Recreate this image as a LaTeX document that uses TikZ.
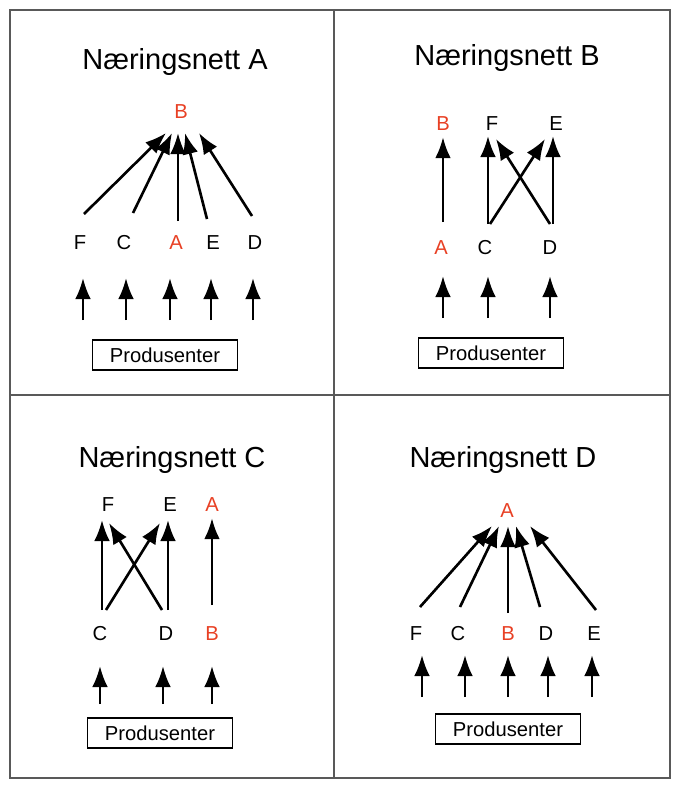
\documentclass[tikz,border=0pt]{standalone}
\usepackage{fontspec}
\setmainfont{Liberation Sans}
\usetikzlibrary{arrows.meta}
\definecolor{topred}{RGB}{232,64,36}
\tikzset{
  lbl/.style={font=\fontsize{11.5}{13}\selectfont},
  red/.style={lbl, text=topred},
  ttl/.style={font=\fontsize{16.5}{19}\selectfont},
  prod/.style={draw, line width=0.6pt, font=\fontsize{11.5}{13}\selectfont, minimum width=4cm, minimum height=0.6cm, inner sep=2pt},
  arr/.style={line width=1.5pt, -{Latex[length=12pt,width=9pt]}}
}
\begin{document}
\begin{tikzpicture}[x=0.02cm, y=-0.02cm]
    \useasboundingbox (0,0) rectangle (684,792);
    \draw[line width=0.6pt, gray!70!black] (10,10) rectangle (670,778);
    \draw[line width=0.6pt, gray!70!black] (334,10) -- (334,778);
    \draw[line width=0.6pt, gray!70!black] (10,395) -- (670,395);

    % Naeringsnett A
    \node[ttl] (tA) at (175,62) {Næringsnett A};
    \node[red] (aB) at (181,112) {B};
    \node[lbl] (aF) at (80,243) {F};
    \node[lbl] (aC) at (124,243) {C};
    \node[red] (aA) at (176,243) {A};
    \node[lbl] (aE) at (213,243) {E};
    \node[lbl] (aD) at (255,243) {D};
    \coordinate (aT1) at (166,133);
    \coordinate (aT2) at (172,133);
    \coordinate (aT3) at (178,133);
    \coordinate (aT4) at (185,133);
    \coordinate (aT5) at (199,133);
    \coordinate (aF0) at (84,214);
    \coordinate (aC0) at (133,213);
    \coordinate (aA0) at (178,221);
    \coordinate (aE0) at (207,219);
    \coordinate (aD0) at (252,216);
    \draw[arr] (aF0) -- (aT1);
    \draw[arr] (aC0) -- (aT2);
    \draw[arr] (aA0) -- (aT3);
    \draw[arr] (aE0) -- (aT4);
    \draw[arr] (aD0) -- (aT5);
    \foreach \x in {83,126,170,211,253}
        \draw[arr] (\x,320) -- (\x,278);
    \node[prod, minimum width=2.9cm] (pA) at (165,355) {Produsenter};

    % Naeringsnett B
    \node[ttl] (tB) at (507,58) {Næringsnett B};
    \node[red] (bB) at (443,124) {B};
    \node[lbl] (bF) at (492,124) {F};
    \node[lbl] (bE) at (556,124) {E};
    \node[red] (bA) at (441,248) {A};
    \node[lbl] (bC) at (485,248) {C};
    \node[lbl] (bD) at (550,248) {D};
    \draw[arr] (443,222) -- (bB);
    \draw[arr] (488,224) -- (488,136);
    \draw[arr] (490,224) -- (545,139);
    \draw[arr] (550,224) -- (496,139);
    \draw[arr] (553,224) -- (553,136);
    \foreach \x in {443,488,550}
        \draw[arr] (\x,318) -- (\x,276);
    \node[prod, minimum width=2.9cm] (pB) at (491,353) {Produsenter};

    % Naeringsnett C
    \node[ttl] (tC) at (172,460) {Næringsnett C};
    \node[lbl] (cF) at (108,505) {F};
    \node[lbl] (cE) at (170,505) {E};
    \node[red] (cA) at (212,505) {A};
    \node[lbl] (cC) at (100,634) {C};
    \node[lbl] (cD) at (166,634) {D};
    \node[red] (cB) at (212,634) {B};
    \draw[arr] (102,610) -- (102,520);
    \draw[arr] (106,610) -- (160,523);
    \draw[arr] (162,610) -- (109,523);
    \draw[arr] (168,610) -- (168,520);
    \draw[arr] (212,605) -- (cA);
    \foreach \x in {100,163,212}
        \draw[arr] (\x,704) -- (\x,666);
    \node[prod, minimum width=2.9cm] (pC) at (160,733) {Produsenter};

    % Naeringsnett D
    \node[ttl] (tD) at (503,460) {Næringsnett D};
    \node[red] (dA) at (507,511) {A};
    \node[lbl] (dF) at (416,634) {F};
    \node[lbl] (dC) at (458,634) {C};
    \node[red] (dB) at (508,634) {B};
    \node[lbl] (dD) at (546,634) {D};
    \node[lbl] (dE) at (594,634) {E};
    \draw[arr] (420,607) -- (492,526);
    \draw[arr] (460,607) -- (499,526);
    \draw[arr] (508,613) -- (508,526);
    \draw[arr] (540,607) -- (516,526);
    \draw[arr] (596,610) -- (530,526);
    \foreach \x in {422,465,508,548,592}
        \draw[arr] (\x,697) -- (\x,655);
    \node[prod, minimum width=2.9cm] (pD) at (508,729) {Produsenter};
\end{tikzpicture}
\end{document}
